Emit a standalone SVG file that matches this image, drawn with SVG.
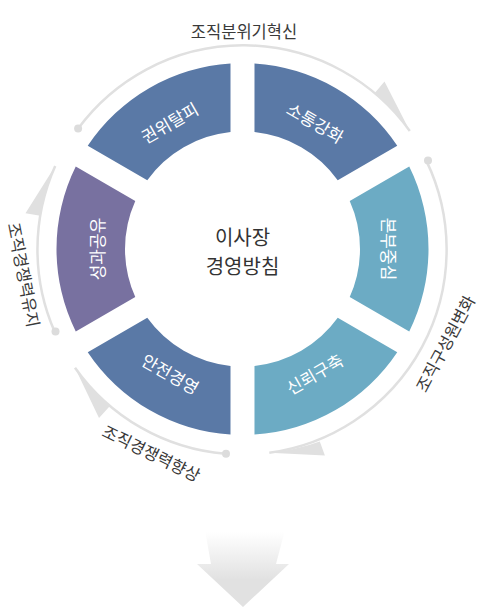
<svg xmlns="http://www.w3.org/2000/svg" xmlns:xlink="http://www.w3.org/1999/xlink" width="485" height="612" viewBox="0 0 485 612">
<style>
.seg-blue{fill:#5a79a6}
.seg-teal{fill:#6cabc4}
.seg-purple{fill:#7871a0}
.segtxt{font-family:"Noto Sans CJK KR","Noto Sans",sans-serif;font-size:17px;fill:#ffffff;text-anchor:middle}
.ctr{font-family:"Noto Sans CJK KR","Noto Sans",sans-serif;font-size:20px;fill:#333333;text-anchor:middle}
.lbl{font-family:"Noto Sans CJK KR","Noto Sans",sans-serif;font-size:16.5px;fill:#3a3a3a;text-anchor:middle}
.ring{fill:none;stroke:#e0e0e0;stroke-width:2.5}
.dot{fill:#dcdcdc}
.head{fill:#e0e0e0}
</style>
<defs>
<path id="segTop" d="M 160.08 82.25 A 186 186 0 0 1 324.92 82.25 L 290.56 141.78 A 117.5 117.5 0 0 0 194.44 141.78 Z"/>
<path id="segBot" d="M 324.92 415.75 A 186 186 0 0 1 160.08 415.75 L 194.44 356.22 A 117.5 117.5 0 0 0 290.56 356.22 Z"/>
<linearGradient id="downGrad" gradientUnits="userSpaceOnUse" x1="0" y1="532" x2="0" y2="580">
<stop offset="0" stop-color="#ffffff"/>
<stop offset="1" stop-color="#e1e1e1"/>
</linearGradient>
</defs>

<g id="connectors">
<path class="ring" d="M 78.1 128.6 A 205 205 0 0 1 409.8 131.0"/>
<path class="head" d="M 409.8 131.0 L 384.5 81.5 L 374.8 92.9 A 205 205 0 0 1 409.8 131.0 Z"/>
<circle class="dot" cx="78.1" cy="128.6" r="4"/>

<path class="ring" d="M 426.3 160.6 A 205 205 0 0 1 269.3 452.7"/>
<path class="head" d="M 269.3 452.7 L 324.9 455.5 L 319.8 441.6 A 205 205 0 0 1 269.3 452.7 Z"/>
<circle class="dot" cx="428" cy="160.6" r="4"/>

<path class="ring" d="M 225.3 453.8 A 205 205 0 0 1 75.0 367.7"/>
<path class="head" d="M 75.0 367.7 L 99.0 418.0 L 109.9 405.9 A 205 205 0 0 1 75.0 367.7 Z"/>
<circle class="dot" cx="226" cy="453.8" r="4"/>

<path class="ring" d="M 54.6 331.6 A 205 205 0 0 1 55.2 166.1"/>
<path class="head" d="M 55.2 166.1 L 25.5 213.2 L 40.3 215.7 A 205 205 0 0 1 55.2 166.1 Z"/>
<circle class="dot" cx="55.5" cy="331.6" r="4"/>
</g>

<g id="node-gwonwi" transform="rotate(-30 242.5 249)">
<use xlink:href="#segTop" class="seg-blue"/>
<text class="segtxt" x="242.5" y="110">권위탈피</text>
</g>
<g id="node-sotong" transform="rotate(30 242.5 249)">
<use xlink:href="#segTop" class="seg-blue"/>
<text class="segtxt" x="242.5" y="110">소통강화</text>
</g>
<g id="node-bonbu" transform="rotate(90 242.5 249)">
<use xlink:href="#segTop" class="seg-teal"/>
<text class="segtxt" x="242.5" y="110">본부중심</text>
</g>
<g id="node-sinroe" transform="rotate(-30 242.5 249)">
<use xlink:href="#segBot" class="seg-teal"/>
<text class="segtxt" x="242.5" y="400">신뢰구축</text>
</g>
<g id="node-anjeon" transform="rotate(30 242.5 249)">
<use xlink:href="#segBot" class="seg-blue"/>
<text class="segtxt" x="242.5" y="400">안전경영</text>
</g>
<g id="node-seonggwa" transform="rotate(-90 242.5 249)">
<use xlink:href="#segTop" class="seg-purple"/>
<text class="segtxt" x="242.5" y="110">성과공유</text>
</g>

<g id="node-center">
<text class="ctr" x="242.5" y="245">이사장</text>
<text class="ctr" x="242.5" y="274">경영방침</text>
</g>

<g id="labels">
<text class="lbl" x="244" y="38">조직분위기혁신</text>
<text class="lbl" transform="translate(446 344) rotate(-62)" x="0" y="5.5">조직구성원변화</text>
<text class="lbl" transform="translate(151 454) rotate(26)" x="0" y="5.5">조직경쟁력향상</text>
<text class="lbl" transform="translate(23 275) rotate(79)" x="0" y="5.5">조직경쟁력유지</text>
</g>

<g id="down-arrow">
<path d="M 205 530 L 285 530 L 276 564 L 289 564 L 243 607 L 197 564 L 211 564 Z" fill="url(#downGrad)"/>
</g>
</svg>
